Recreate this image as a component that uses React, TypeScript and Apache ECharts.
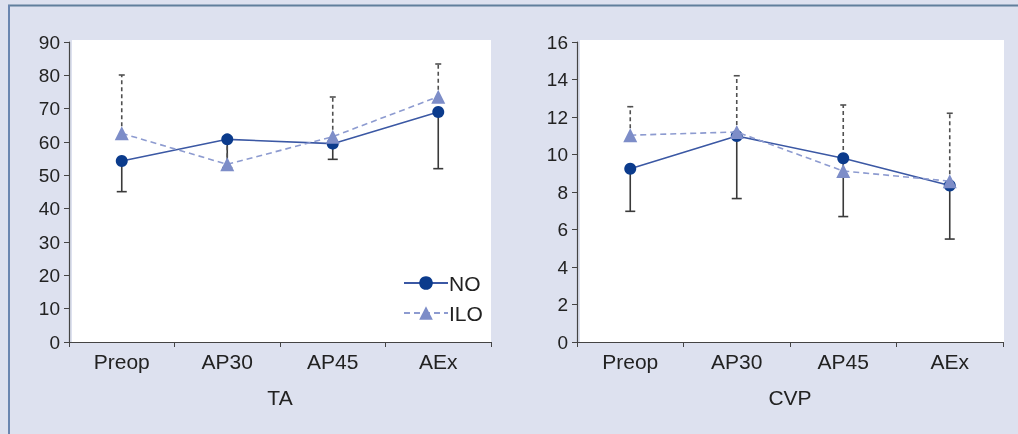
import React, { useEffect, useRef } from "react";
import * as echarts from "echarts";

const categories = ["Preop", "AP30", "AP45", "AEx"];
const seriesNames = ["NO", "ILO"];
const axisTitles = ["TA", "CVP"];

// TA panel
const taNO = [54.3, 60.8, 59.5, 69.0];
const taNOLower = [45.1, 52.3, 54.8, 52.0];
const taILO = [62.6, 53.3, 61.6, 73.6];
const taILOUpper = [80.1, 60.5, 73.5, 83.4];
const taAxis = { min: 0, max: 90, interval: 10 };

// CVP panel
const cvpNO = [9.24, 10.99, 9.8, 8.35];
const cvpNOLower = [6.97, 7.65, 6.69, 5.49];
const cvpILO = [11.03, 11.2, 9.12, 8.58];
const cvpILOUpper = [12.55, 14.2, 12.64, 12.2];
const cvpAxis = { min: 0, max: 16, interval: 2 };

const FONT = "'Liberation Sans', Arial, sans-serif";
const TEXT = "#222222";
const NO_MARK = "#0b3b8c";
const NO_LINE = "#3b58a4";
const ILO_MARK = "#7d8dc8";
const ILO_LINE = "#8d9bd0";
const BAR = "#3a3a3a";

function errSeries(name: string, means: number[], ends: number[], idx: number, dashed: boolean) {
  return {
    type: "custom",
    name: name + "_err",
    xAxisIndex: idx,
    yAxisIndex: idx,
    z: 1,
    silent: true,
    data: means.map((m, i) => [i, m, ends[i]]),
    encode: { x: 0, y: [1, 2] },
    renderItem: (params: any, api: any) => {
      const i = api.value(0);
      const p0 = api.coord([i, api.value(1)]);
      const p1 = api.coord([i, api.value(2)]);
      const color = dashed ? "#505050" : BAR;
      const style: any = { stroke: color, lineWidth: 1.6 };
      if (dashed) style.lineDash = [4, 3];
      const half = dashed ? 3 : 5;
      return {
        type: "group",
        children: [
          { type: "line", shape: { x1: p0[0], y1: p0[1], x2: p1[0], y2: p1[1] }, style },
          {
            type: "line",
            shape: { x1: p1[0] - half, y1: p1[1], x2: p1[0] + half, y2: p1[1] },
            style: { stroke: color, lineWidth: 1.6 },
          },
        ],
      };
    },
  };
}

export default function App() {
  const ref = useRef<HTMLDivElement>(null);
  useEffect(() => {
    const chart = echarts.init(ref.current!, undefined, { renderer: "svg" });
    const grids = [
      { left: 69, top: 42, width: 422, height: 300 },
      { left: 577, top: 42, width: 426, height: 300 },
    ];
    const xAxis = [0, 1].map((i) => ({
      type: "category",
      gridIndex: i,
      data: categories,
      boundaryGap: true,
      name: axisTitles[i],
      nameLocation: "middle",
      nameGap: 45,
      nameTextStyle: { fontFamily: FONT, fontSize: 21, color: TEXT },
      axisLine: { lineStyle: { color: "#444", width: 1.2 } },
      axisTick: { show: true, length: 5, lineStyle: { color: "#444" } },
      axisLabel: { fontFamily: FONT, fontSize: 21, color: TEXT, margin: 9 },
      splitLine: { show: false },
    }));
    const ranges = [taAxis, cvpAxis];
    const yAxis = [0, 1].map((i) => ({
      type: "value",
      gridIndex: i,
      min: ranges[i].min,
      max: ranges[i].max,
      interval: ranges[i].interval,
      axisLine: { show: true, lineStyle: { color: "#444", width: 1.2 } },
      axisTick: { show: true, length: 5, lineStyle: { color: "#444" } },
      axisLabel: { fontFamily: FONT, fontSize: 19, color: TEXT, margin: 9 },
      splitLine: { show: false },
    }));
    const lineSeries = (name: string, data: number[], idx: number, isNO: boolean) => ({
      type: "line",
      name,
      xAxisIndex: idx,
      yAxisIndex: idx,
      data,
      z: isNO ? 2 : 3,
      symbol: isNO ? "circle" : "triangle",
      symbolSize: isNO ? 12 : 14,
      itemStyle: { color: isNO ? NO_MARK : ILO_MARK },
      lineStyle: {
        color: isNO ? NO_LINE : ILO_LINE,
        width: 1.6,
        type: isNO ? "solid" : [6, 4],
      },
    });
    chart.setOption({
      animation: false,
      graphic: [
        { type: "rect", z: -10, shape: { x: 0, y: 0, width: 1018, height: 434 }, style: { fill: "#dde1ef" } },
        { type: "rect", z: -9, shape: { x: 72, y: 40, width: 419, height: 302 }, style: { fill: "#ffffff" } },
        { type: "rect", z: -9, shape: { x: 580, y: 40, width: 424, height: 302 }, style: { fill: "#ffffff" } },
        { type: "line", z: -8, shape: { x1: 8, y1: 5.5, x2: 1018, y2: 5.5 }, style: { stroke: "#607f9c", lineWidth: 2 } },
        { type: "line", z: -8, shape: { x1: 9, y1: 5, x2: 9, y2: 434 }, style: { stroke: "#6a86b0", lineWidth: 2 } },
      ],
      legend: {
        left: 398,
        top: 267,
        orient: "vertical",
        itemWidth: 44,
        itemHeight: 17,
        itemGap: 8,
        data: seriesNames,
        textStyle: { fontFamily: FONT, fontSize: 21, lineHeight: 22, color: TEXT, padding: [0, 0, 0, -4] },
      },
      grid: grids,
      xAxis,
      yAxis,
      series: [
        errSeries("NO", taNO, taNOLower, 0, false),
        errSeries("ILO", taILO, taILOUpper, 0, true),
        errSeries("NO", cvpNO, cvpNOLower, 1, false),
        errSeries("ILO", cvpILO, cvpILOUpper, 1, true),
        lineSeries(seriesNames[0], taNO, 0, true),
        lineSeries(seriesNames[1], taILO, 0, false),
        lineSeries(seriesNames[0], cvpNO, 1, true),
        lineSeries(seriesNames[1], cvpILO, 1, false),
      ],
    });
    return () => chart.dispose();
  }, []);
  return <div ref={ref} style={{ position: "fixed", left: 0, top: 0, width: 1018, height: 434 }} />;
}
